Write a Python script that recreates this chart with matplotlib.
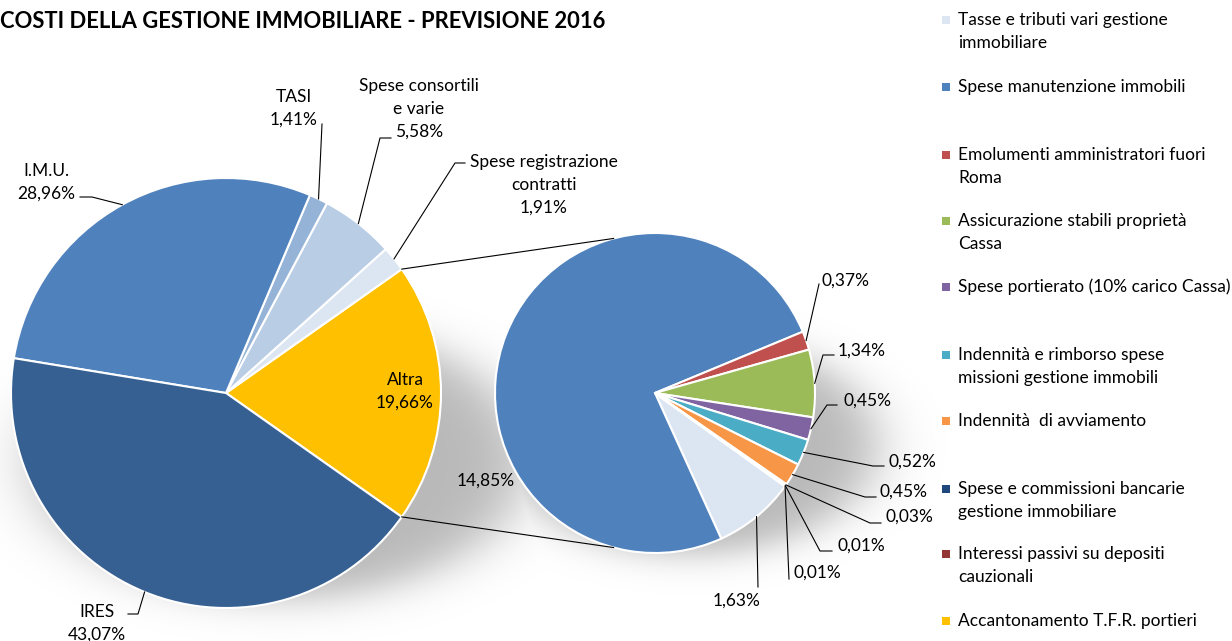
import numpy as np
import matplotlib
matplotlib.use("Agg")
import matplotlib.pyplot as plt
from matplotlib.patches import Rectangle

# ---------------- data ----------------
main_labels = ["Altra", "Spese registrazione\ncontratti", "Spese consortili\ne varie",
               "TASI", "I.M.U.", "IRES"]
main_values = [19.66, 1.91, 5.58, 1.41, 28.96, 43.07]
main_colors = ["#FFC000", "#DCE6F2", "#B9CDE5", "#95B3D7", "#4F81BD", "#376092"]

sec_labels = ["Tasse e tributi vari gestione\nimmobiliare",
              "Spese manutenzione immobili",
              "Emolumenti amministratori fuori\nRoma",
              "Assicurazione stabili proprietà\nCassa",
              "Spese portierato (10% carico Cassa)",
              "Indennità e rimborso spese\nmissioni gestione immobili",
              "Indennità  di avviamento",
              "Spese e commissioni bancarie\ngestione immobiliare",
              "Interessi passivi su depositi\ncauzionali",
              "Accantonamento T.F.R. portieri"]
sec_values = [1.63, 14.85, 0.37, 1.34, 0.45, 0.52, 0.45, 0.03, 0.01, 0.01]
sec_colors = ["#DCE6F2", "#4F81BD", "#C0504D", "#9BBB59", "#8064A2",
              "#4BACC6", "#F79646", "#1F497D", "#943634", "#FFC000"]

title = "COSTI DELLA GESTIONE IMMOBILIARE - PREVISIONE 2016"

def pct(v):
    return f"{v:.2f}%".replace(".", ",")

# ---------------- figure ----------------
W, H = 1232, 641
fig = plt.figure(figsize=(W / 100, H / 100), dpi=100)
ax = fig.add_axes([0, 0, 1, 1])

FONT = "Lato"
FS = 12.5
LS = 23  # line step in pixels

def Y(py):
    return H - py

c1 = (226, Y(393)); r1 = 215
c2 = (655, Y(393)); r2 = 160

# soft shadows
xx, yy = np.meshgrid(np.arange(W), np.arange(H))
shadow = np.zeros((H, W))
for (cx, cy, a, b, s) in [(280, 460, 245, 138, 0.08), (690, 445, 185, 108, 0.09)]:
    d = np.sqrt(((xx - cx) / a) ** 2 + ((yy - cy) / b) ** 2)
    shadow = np.maximum(shadow, 1.0 / (1.0 + np.exp((d - 1.0) / s)))
rgba = np.zeros((H, W, 4))
rgba[..., 3] = 0.28 * shadow
ax.imshow(rgba, extent=(0, W, 0, H), origin="upper", zorder=0, interpolation="bilinear")

# main pie
tot1 = sum(main_values)
start1 = -main_values[0] / tot1 * 360 / 2
w1, _ = ax.pie(main_values, colors=main_colors, center=c1, radius=r1,
               startangle=start1, counterclock=True, frame=True,
               wedgeprops=dict(edgecolor="white", linewidth=1.5))

# secondary pie
w2, _ = ax.pie(sec_values, colors=sec_colors, center=c2, radius=r2,
               startangle=-35.7, counterclock=False, frame=True,
               wedgeprops=dict(edgecolor="white", linewidth=1.5))
ax.set_xlim(0, W)
ax.set_ylim(0, H)
ax.set_aspect("equal")
ax.axis("off")

def edge(w, c, r):
    th = np.deg2rad((w.theta1 + w.theta2) / 2)
    return c[0] + r * np.cos(th), c[1] + r * np.sin(th)

def line(pts):
    xs = [p[0] for p in pts]
    ys = [p[1] for p in pts]
    ax.plot(xs, ys, color="black", lw=0.8, zorder=5)

def txt(x, py, s, ha="center"):
    # py = pixel y of the centre of the first line
    for k, part in enumerate(s.split("\n")):
        ax.text(x, Y(py + k * LS), part, fontsize=FS, family=FONT, ha=ha,
                va="center", zorder=6)

# connector lines
a_top = np.deg2rad(w1[0].theta2); a_bot = np.deg2rad(w1[0].theta1)
p_top = (c1[0] + r1 * np.cos(a_top), c1[1] + r1 * np.sin(a_top))
p_bot = (c1[0] + r1 * np.cos(a_bot), c1[1] + r1 * np.sin(a_bot))
q_top = (c2[0] + r2 * np.cos(np.deg2rad(105)), c2[1] + r2 * np.sin(np.deg2rad(105)))
q_bot = (c2[0] + r2 * np.cos(np.deg2rad(-105)), c2[1] + r2 * np.sin(np.deg2rad(-105)))
line([p_top, q_top]); line([p_bot, q_bot])

# main labels
txt(405, 380, f"{main_labels[0]}\n{pct(main_values[0])}")
e = edge(w1[1], c1, r1)
line([e, (455, Y(163)), (465, Y(163))])
txt(544, 162, f"{main_labels[1]}\n{pct(main_values[1])}")
e = edge(w1[2], c1, r1)
line([e, (380, Y(138)), (391, Y(138))])
txt(419, 86, f"{main_labels[2]}\n{pct(main_values[2])}")
e = edge(w1[3], c1, r1)
line([e, (322, Y(124))])
txt(294, 97, f"{main_labels[3]}\n{pct(main_values[3])}")
e = edge(w1[4], c1, r1)
line([e, (92, Y(197)), (80, Y(197))])
txt(46, 171, f"{main_labels[4]}\n{pct(main_values[4])}")
e = edge(w1[5], c1, r1)
line([e, (138, Y(614)), (128, Y(614))])
txt(97, 612, f"{main_labels[5]}\n{pct(main_values[5])}")

# secondary labels: (elbow, end, text center)
sec_lab = [
    [(758, 587), None, (737, 601)],
    None,
    [(819, 284), None, (846, 281)],
    [(823, 355), (834, 355), (862, 351)],
    [(827, 405), (837, 405), (867, 401)],
    [(873, 466), (884, 466), (912, 462)],
    [(865, 497), (876, 497), (904, 492)],
    [(870, 523), (881, 523), (909, 517)],
    [(820, 551), (832, 551), (861, 546)],
    [(789, 579), None, (817, 573)],
]
for i, spec in enumerate(sec_lab):
    if spec is None:
        continue
    e = edge(w2[i], c2, r2)
    pts = [e, (spec[0][0], Y(spec[0][1]))]
    if spec[1] is not None:
        pts.append((spec[1][0], Y(spec[1][1])))
    line(pts)
    txt(spec[2][0], spec[2][1], pct(sec_values[i]))
txt(486, 481, pct(sec_values[1]))

# title
ax.text(0, Y(21), title, fontsize=15.8, family=FONT, fontweight="bold",
        ha="left", va="center", zorder=6)

# legend (manual)
leg_y = [20, 87, 155, 221, 287, 355, 421, 489, 554, 621]
for lab, col, py in zip(sec_labels, sec_colors, leg_y):
    ax.add_patch(Rectangle((942, Y(py) - 4), 8, 8, facecolor=col, edgecolor="none", zorder=6))
    txt(958, py, lab, ha="left")

fig.savefig("out.png", dpi=100)
